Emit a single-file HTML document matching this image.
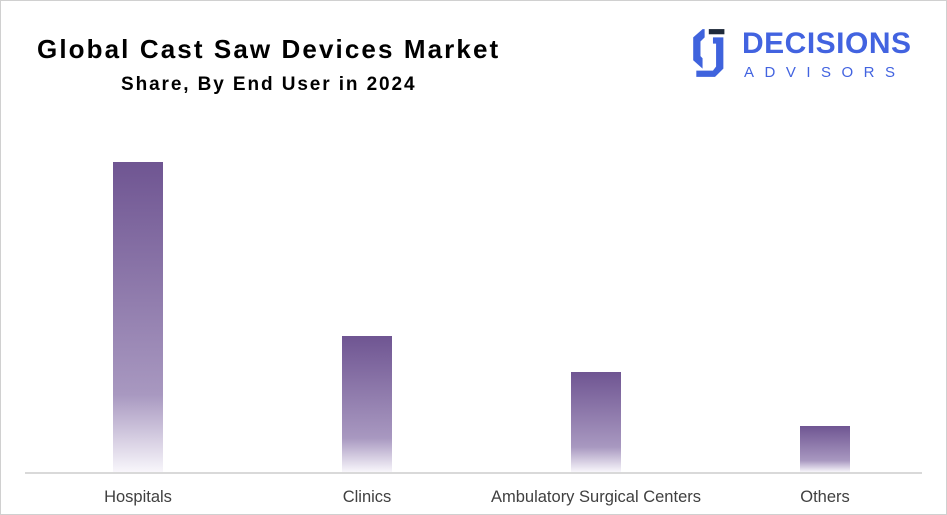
<!DOCTYPE html>
<html><head><style>
body{margin:0;width:947px;height:515px;overflow:hidden;background:#fff;font-family:"Liberation Sans",sans-serif}
.frame{position:absolute;left:0;top:0;width:945px;height:513px;border:1px solid #d0d0d0}
.t1{position:absolute;left:37px;top:34px;font-size:26px;font-weight:bold;color:#000;letter-spacing:2.1px;white-space:nowrap}
.t2{position:absolute;left:121px;top:74px;font-size:19px;font-weight:bold;color:#000;letter-spacing:1.9px;white-space:nowrap}
.bar{position:absolute;width:50px;background:linear-gradient(#6f5592 0%,#a898c0 75%,#f8f6fb 100%)}
.axis{position:absolute;left:25px;top:472px;width:897px;height:2px;background:#d9d9d9}
.lab{position:absolute;top:488px;font-size:16.5px;color:#404040;text-align:center;width:300px;white-space:nowrap}
</style></head><body>
<div class="frame"></div>
<div class="t1">Global Cast Saw Devices Market</div>
<div class="t2">Share, By End User in 2024</div>
<svg style="position:absolute;left:688px;top:27px" width="52" height="52" viewBox="0 0 50 50">
<path d="M14 2 L5 10 L5 32 L14 40 L14 30 L12 28 L12 14 L16 10 L16 2 Z" fill="#3f63dd"/>
<rect x="20" y="2" width="15" height="5" fill="#1e2a3a"/>
<path d="M24 10 L34 10 L34 40 L26 48 L8 48 L8 42 L24 42 L27 38 L27 16 L24 16 Z" fill="#3f63dd"/>
</svg>
<div style="position:absolute;left:742px;top:27px;font-size:30px;font-weight:bold;color:#4263e0;letter-spacing:0.5px">DECISIONS</div>
<div style="position:absolute;left:744px;top:64px;font-size:15px;color:#4263e0;letter-spacing:10.5px">ADVISORS</div>
<div class="bar" style="left:113px;top:162px;height:310px"></div>
<div class="bar" style="left:342px;top:336px;height:136px"></div>
<div class="bar" style="left:571px;top:372px;height:100px"></div>
<div class="bar" style="left:800px;top:426px;height:46px"></div>
<div class="axis"></div>
<div class="lab" style="left:-12px">Hospitals</div>
<div class="lab" style="left:217px">Clinics</div>
<div class="lab" style="left:446px">Ambulatory Surgical Centers</div>
<div class="lab" style="left:675px">Others</div>
</body></html>
